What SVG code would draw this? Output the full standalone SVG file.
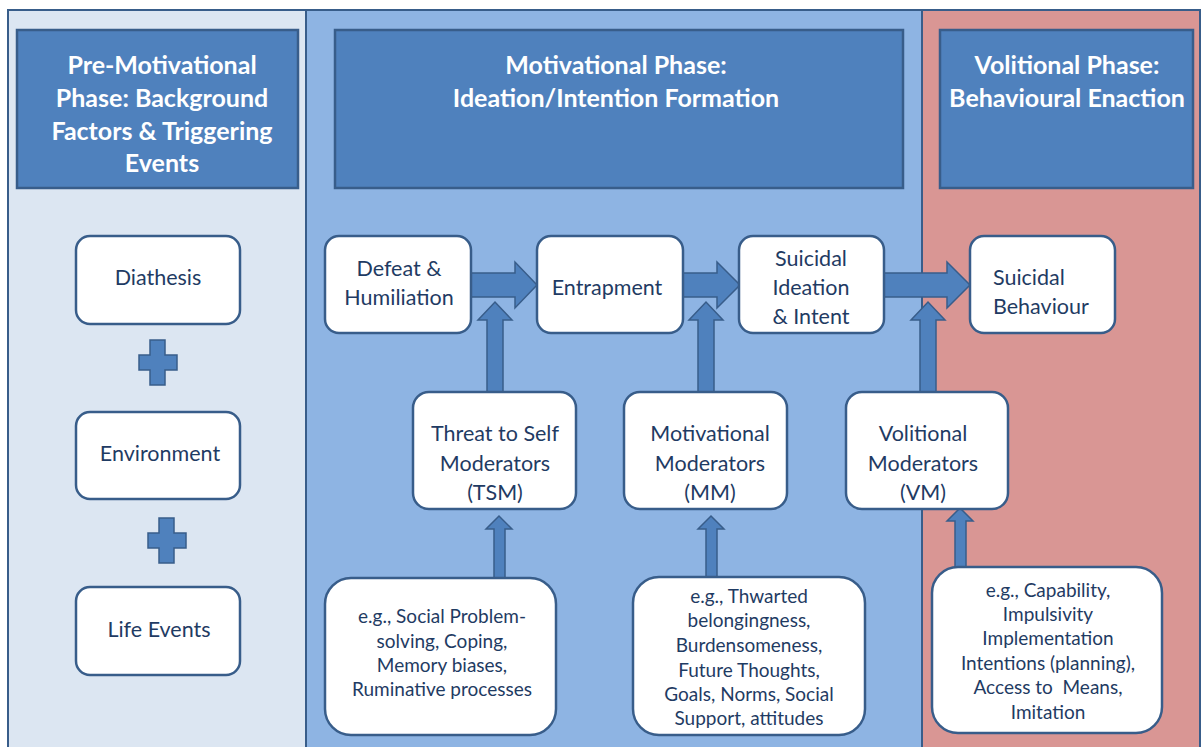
<svg xmlns="http://www.w3.org/2000/svg" width="1203" height="747" viewBox="0 0 1203 747">
<style>
.panel{stroke:#385d8a;stroke-width:2}
.hdr{fill:#4f81bd;stroke:#385d8a;stroke-width:2.5}
.ht{font-family:Lato,"Open Sans",sans-serif;font-weight:bold;font-size:25px;fill:#ffffff;text-anchor:middle}
.node{fill:#ffffff;stroke:#385d8a;stroke-width:2.5}
.nt{font-family:Lato,"Open Sans",sans-serif;font-size:21.5px;fill:#1f3b63;text-anchor:middle}
.nl{font-family:Lato,"Open Sans",sans-serif;font-size:21.5px;fill:#1f3b63;text-anchor:start}
.st{font-family:Lato,"Open Sans",sans-serif;font-size:19px;fill:#1f3b63;text-anchor:middle}
.arr{fill:#4f81bd;stroke:#385d8a;stroke-width:1.5;stroke-linejoin:miter}
</style>
<rect width="1203" height="747" fill="#ffffff"/>
<g id="panels">
<rect class="panel" x="8" y="10" width="298" height="745" fill="#dce6f2"/>
<rect class="panel" x="306" y="10" width="616" height="745" fill="#8eb4e3"/>
<rect class="panel" x="922" y="10" width="278" height="745" fill="#d99694"/>
</g>
<g id="header-pre">
<rect class="hdr" x="17" y="30" width="281" height="158"/>
<text class="ht" x="162" y="74">Pre-Motivational</text>
<text class="ht" x="162" y="107">Phase: Background</text>
<text class="ht" x="162" y="140">Factors &amp; Triggering</text>
<text class="ht" x="162" y="172">Events</text>
</g>
<g id="header-mot">
<rect class="hdr" x="335" y="30" width="568" height="158"/>
<text class="ht" x="616" y="74">Motivational Phase:</text>
<text class="ht" x="616" y="107">Ideation/Intention Formation</text>
</g>
<g id="header-vol">
<rect class="hdr" x="940" y="30" width="253" height="158"/>
<text class="ht" x="1067" y="74">Volitional Phase:</text>
<text class="ht" x="1067" y="107">Behavioural Enaction</text>
</g>
<g id="connectors">
<polygon class="arr" points="470,273 515,273 515,262 537,285 515,308 515,297 470,297"/>
<polygon class="arr" points="683,273 717,273 717,262 740,285 717,308 717,297 683,297"/>
<polygon class="arr" points="884,273 947,273 947,262 970,285 947,308 947,297 884,297"/>
<polygon class="arr" points="487,392 487,320 478,320 495,302 512,320 503,320 503,392"/>
<polygon class="arr" points="698,392 698,320 689,320 706,302 723,320 714,320 714,392"/>
<polygon class="arr" points="920,392 920,320 911,320 928,302 945,320 936,320 936,392"/>
<polygon class="arr" points="494,578 494,529 486,529 499,516 512,529 505,529 505,578"/>
<polygon class="arr" points="706,577 706,529 698,529 711,516 724,529 717,529 717,577"/>
<polygon class="arr" points="955,567 955,521 947,521 960,508 973,521 966,521 966,567"/>
<polygon class="arr" points="150,340 165,340 165,355 177,355 177,370 165,370 165,385 150,385 150,370 139,370 139,355 150,355"/>
<polygon class="arr" points="159,518 174,518 174,533 186,533 186,548 174,548 174,563 159,563 159,548 148,548 148,533 159,533"/>
</g>
<g id="diathesis">
<rect class="node" x="76" y="236" width="164" height="88" rx="14"/>
<text class="nt" x="158" y="285">Diathesis</text>
</g>
<g id="environment">
<rect class="node" x="76" y="412" width="164" height="87" rx="14"/>
<text class="nt" x="160" y="461">Environment</text>
</g>
<g id="life-events">
<rect class="node" x="76" y="587" width="164" height="88" rx="14"/>
<text class="nt" x="159" y="637">Life Events</text>
</g>
<g id="defeat">
<rect class="node" x="325" y="236" width="146" height="97" rx="14"/>
<text class="nt" x="399" y="276">Defeat &amp;</text>
<text class="nt" x="399" y="305">Humiliation</text>
</g>
<g id="entrapment">
<rect class="node" x="537" y="236" width="146" height="97" rx="14"/>
<text class="nt" x="607" y="295">Entrapment</text>
</g>
<g id="ideation">
<rect class="node" x="739" y="236" width="145" height="97" rx="14"/>
<text class="nt" x="811" y="266">Suicidal</text>
<text class="nt" x="811" y="295">Ideation</text>
<text class="nt" x="811" y="324">&amp; Intent</text>
</g>
<g id="behaviour">
<rect class="node" x="970" y="236" width="145" height="97" rx="14"/>
<text class="nl" x="993" y="285">Suicidal</text>
<text class="nl" x="993" y="314">Behaviour</text>
</g>
<g id="tsm">
<rect class="node" x="413" y="392" width="163" height="117" rx="16"/>
<text class="nt" x="495" y="441">Threat to Self</text>
<text class="nt" x="495" y="471">Moderators</text>
<text class="nt" x="495" y="500">(TSM)</text>
</g>
<g id="mm">
<rect class="node" x="624" y="392" width="163" height="117" rx="16"/>
<text class="nt" x="710" y="441">Motivational</text>
<text class="nt" x="710" y="471">Moderators</text>
<text class="nt" x="710" y="500">(MM)</text>
</g>
<g id="vm">
<rect class="node" x="846" y="392" width="162" height="117" rx="16"/>
<text class="nt" x="923" y="441">Volitional</text>
<text class="nt" x="923" y="471">Moderators</text>
<text class="nt" x="923" y="500">(VM)</text>
</g>
<g id="tsm-examples">
<rect class="node" x="325" y="578" width="231" height="157" rx="26"/>
<text class="st" x="442" y="623">e.g., Social Problem-</text>
<text class="st" x="442" y="648">solving, Coping,</text>
<text class="st" x="442" y="672">Memory biases,</text>
<text class="st" x="442" y="696">Ruminative processes</text>
</g>
<g id="mm-examples">
<rect class="node" x="633" y="577" width="232" height="158" rx="26"/>
<text class="st" x="749" y="603">e.g., Thwarted</text>
<text class="st" x="749" y="627">belongingness,</text>
<text class="st" x="749" y="652">Burdensomeness,</text>
<text class="st" x="749" y="677">Future Thoughts,</text>
<text class="st" x="749" y="701">Goals, Norms, Social</text>
<text class="st" x="749" y="725">Support, attitudes</text>
</g>
<g id="vm-examples">
<rect class="node" x="932" y="567" width="230" height="166" rx="26"/>
<text class="st" x="1048" y="597">e.g., Capability,</text>
<text class="st" x="1048" y="621">Impulsivity</text>
<text class="st" x="1048" y="645">Implementation</text>
<text class="st" x="1048" y="670">Intentions (planning),</text>
<text class="st" x="1048" y="694" xml:space="preserve">Access to  Means,</text>
<text class="st" x="1048" y="719">Imitation</text>
</g>
</svg>
